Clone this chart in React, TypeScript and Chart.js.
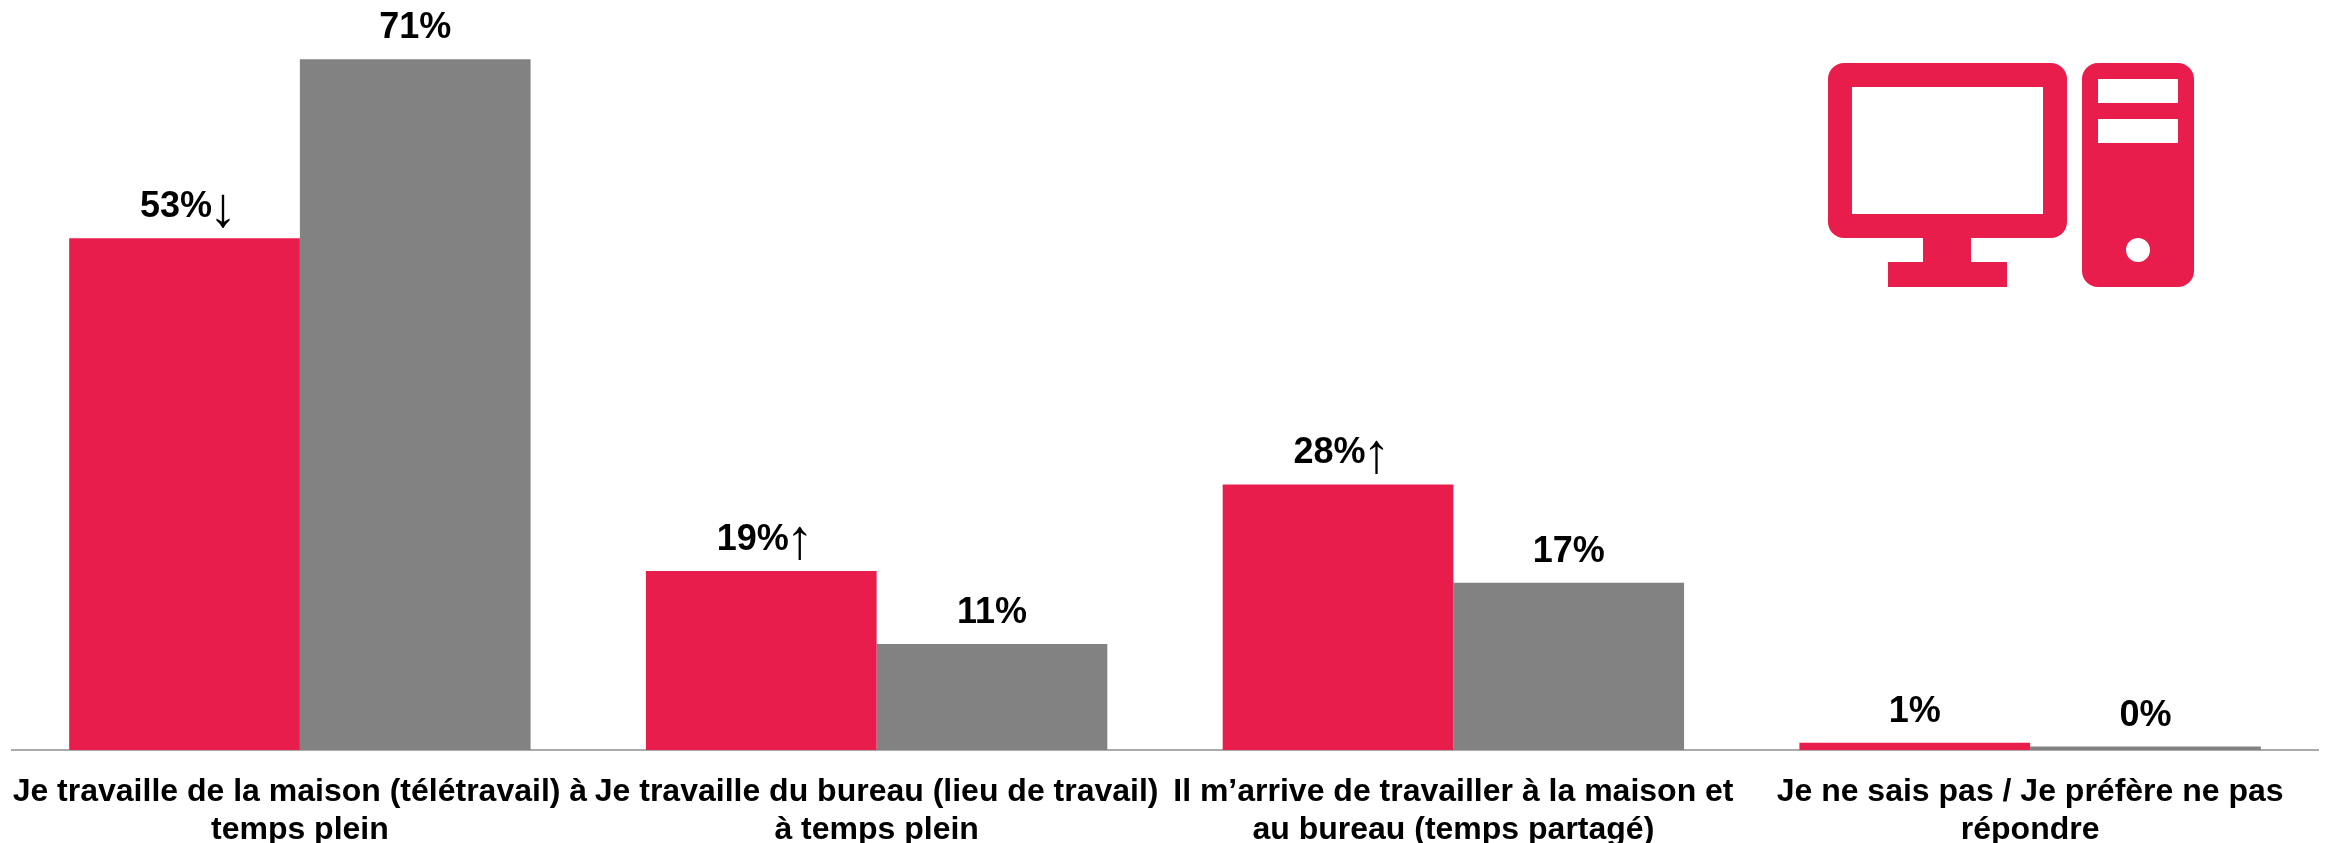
import React, { useEffect, useRef } from "react";
import { Chart, registerables } from "chart.js";

Chart.register(...registerables);

const categories = [
  ["Je travaille de la maison (télétravail) à", "temps plein"],
  ["Je travaille du bureau (lieu de travail)", "à temps plein"],
  ["Il m’arrive de travailler à la maison et", "au bureau (temps partagé)"],
  ["Je ne sais pas / Je préfère ne pas", "répondre"],
];
const seriesA = [52.6, 18.4, 27.3, 0.75];
const seriesB = [71, 10.9, 17.2, 0.35];
const labelsA = ["53%", "19%", "28%", "1%"];
const labelsB = ["71%", "11%", "17%", "0%"];
const arrowsA = ["↓", "↑", "↑", ""];

const RED = "#E91D4C";
const GREY = "#828282";
const FAMILY = '"Liberation Sans", Arial, sans-serif';

const barLabels = {
  id: "barLabels",
  afterDatasetsDraw(chart: any) {
    const { ctx } = chart;
    ctx.save();
    ctx.textBaseline = "middle";
    ctx.textAlign = "left";
    ctx.fillStyle = "#000";
    [labelsA, labelsB].forEach((labels, ds) => {
      chart.getDatasetMeta(ds).data.forEach((bar: any, i: number) => {
        const main = labels[i];
        const arrow = ds === 0 ? arrowsA[i] : "";
        ctx.font = `bold 36px ${FAMILY}`;
        const w1 = ctx.measureText(main).width;
        ctx.font = `56px ${FAMILY}`;
        const w2 = arrow ? ctx.measureText(arrow).width - 11 : 0;
        const x0 = bar.x - (w1 + w2) / 2;
        const y = bar.y - 31;
        ctx.font = `bold 36px ${FAMILY}`;
        ctx.fillText(main, x0, y);
        if (arrow) {
          ctx.font = `56px ${FAMILY}`;
          ctx.fillText(arrow, x0 + w1 - 3, y + 3);
        }
      });
    });
    ctx.restore();
  },
};

const computerIcon = {
  id: "computerIcon",
  afterDraw(chart: any) {
    const { ctx } = chart;
    ctx.save();
    ctx.fillStyle = RED;
    ctx.beginPath();
    ctx.roundRect(1828, 63, 239, 175, 16);
    ctx.rect(1852, 87, 191, 127);
    ctx.fill("evenodd");
    ctx.fillRect(1923, 236, 48, 28);
    ctx.fillRect(1888, 262, 119, 25);
    ctx.beginPath();
    ctx.roundRect(2082, 63, 112, 224, 16);
    ctx.rect(2098, 79, 80, 24);
    ctx.rect(2098, 119, 80, 24);
    ctx.moveTo(2150, 250);
    ctx.arc(2138, 250, 12, 0, Math.PI * 2);
    ctx.fill("evenodd");
    ctx.restore();
  },
};

export default function App() {
  const ref = useRef<HTMLCanvasElement>(null);
  useEffect(() => {
    const chart = new Chart(ref.current!, {
      type: "bar",
      data: {
        labels: categories,
        datasets: [
          { label: "A", data: seriesA, backgroundColor: RED },
          { label: "B", data: seriesB, backgroundColor: GREY },
        ],
      },
      options: {
        animation: false,
        responsive: false,
        layout: { padding: { left: 11.5, right: 7.5, top: 0, bottom: 0 } },
        datasets: { bar: { barPercentage: 1, categoryPercentage: 0.8 } },
        plugins: { legend: { display: false }, tooltip: { enabled: false }, title: { display: false } },
        scales: {
          x: {
            grid: { display: false, drawTicks: false },
            border: { color: "#ABABAB", width: 2 },
            afterFit(scale: any) {
              scale.height = 93;
              scale.paddingLeft = 0;
              scale.paddingRight = 0;
            },
            ticks: {
              autoSkip: false,
              maxRotation: 0,
              minRotation: 0,
              padding: 24,
              color: "#000",
              font: { family: FAMILY, weight: "bold", size: 32, lineHeight: 1.16 },
            },
          },
          y: { display: false, min: 0, max: 77.1 },
        },
      },
      plugins: [barLabels, computerIcon],
    } as any);
    return () => chart.destroy();
  }, []);
  return (
    <div style={{ position: "absolute", left: 0, top: 0, width: 2326, height: 843, background: "#fff" }}>
      <canvas ref={ref} width={2326} height={843} style={{ display: "block" }} />
    </div>
  );
}
